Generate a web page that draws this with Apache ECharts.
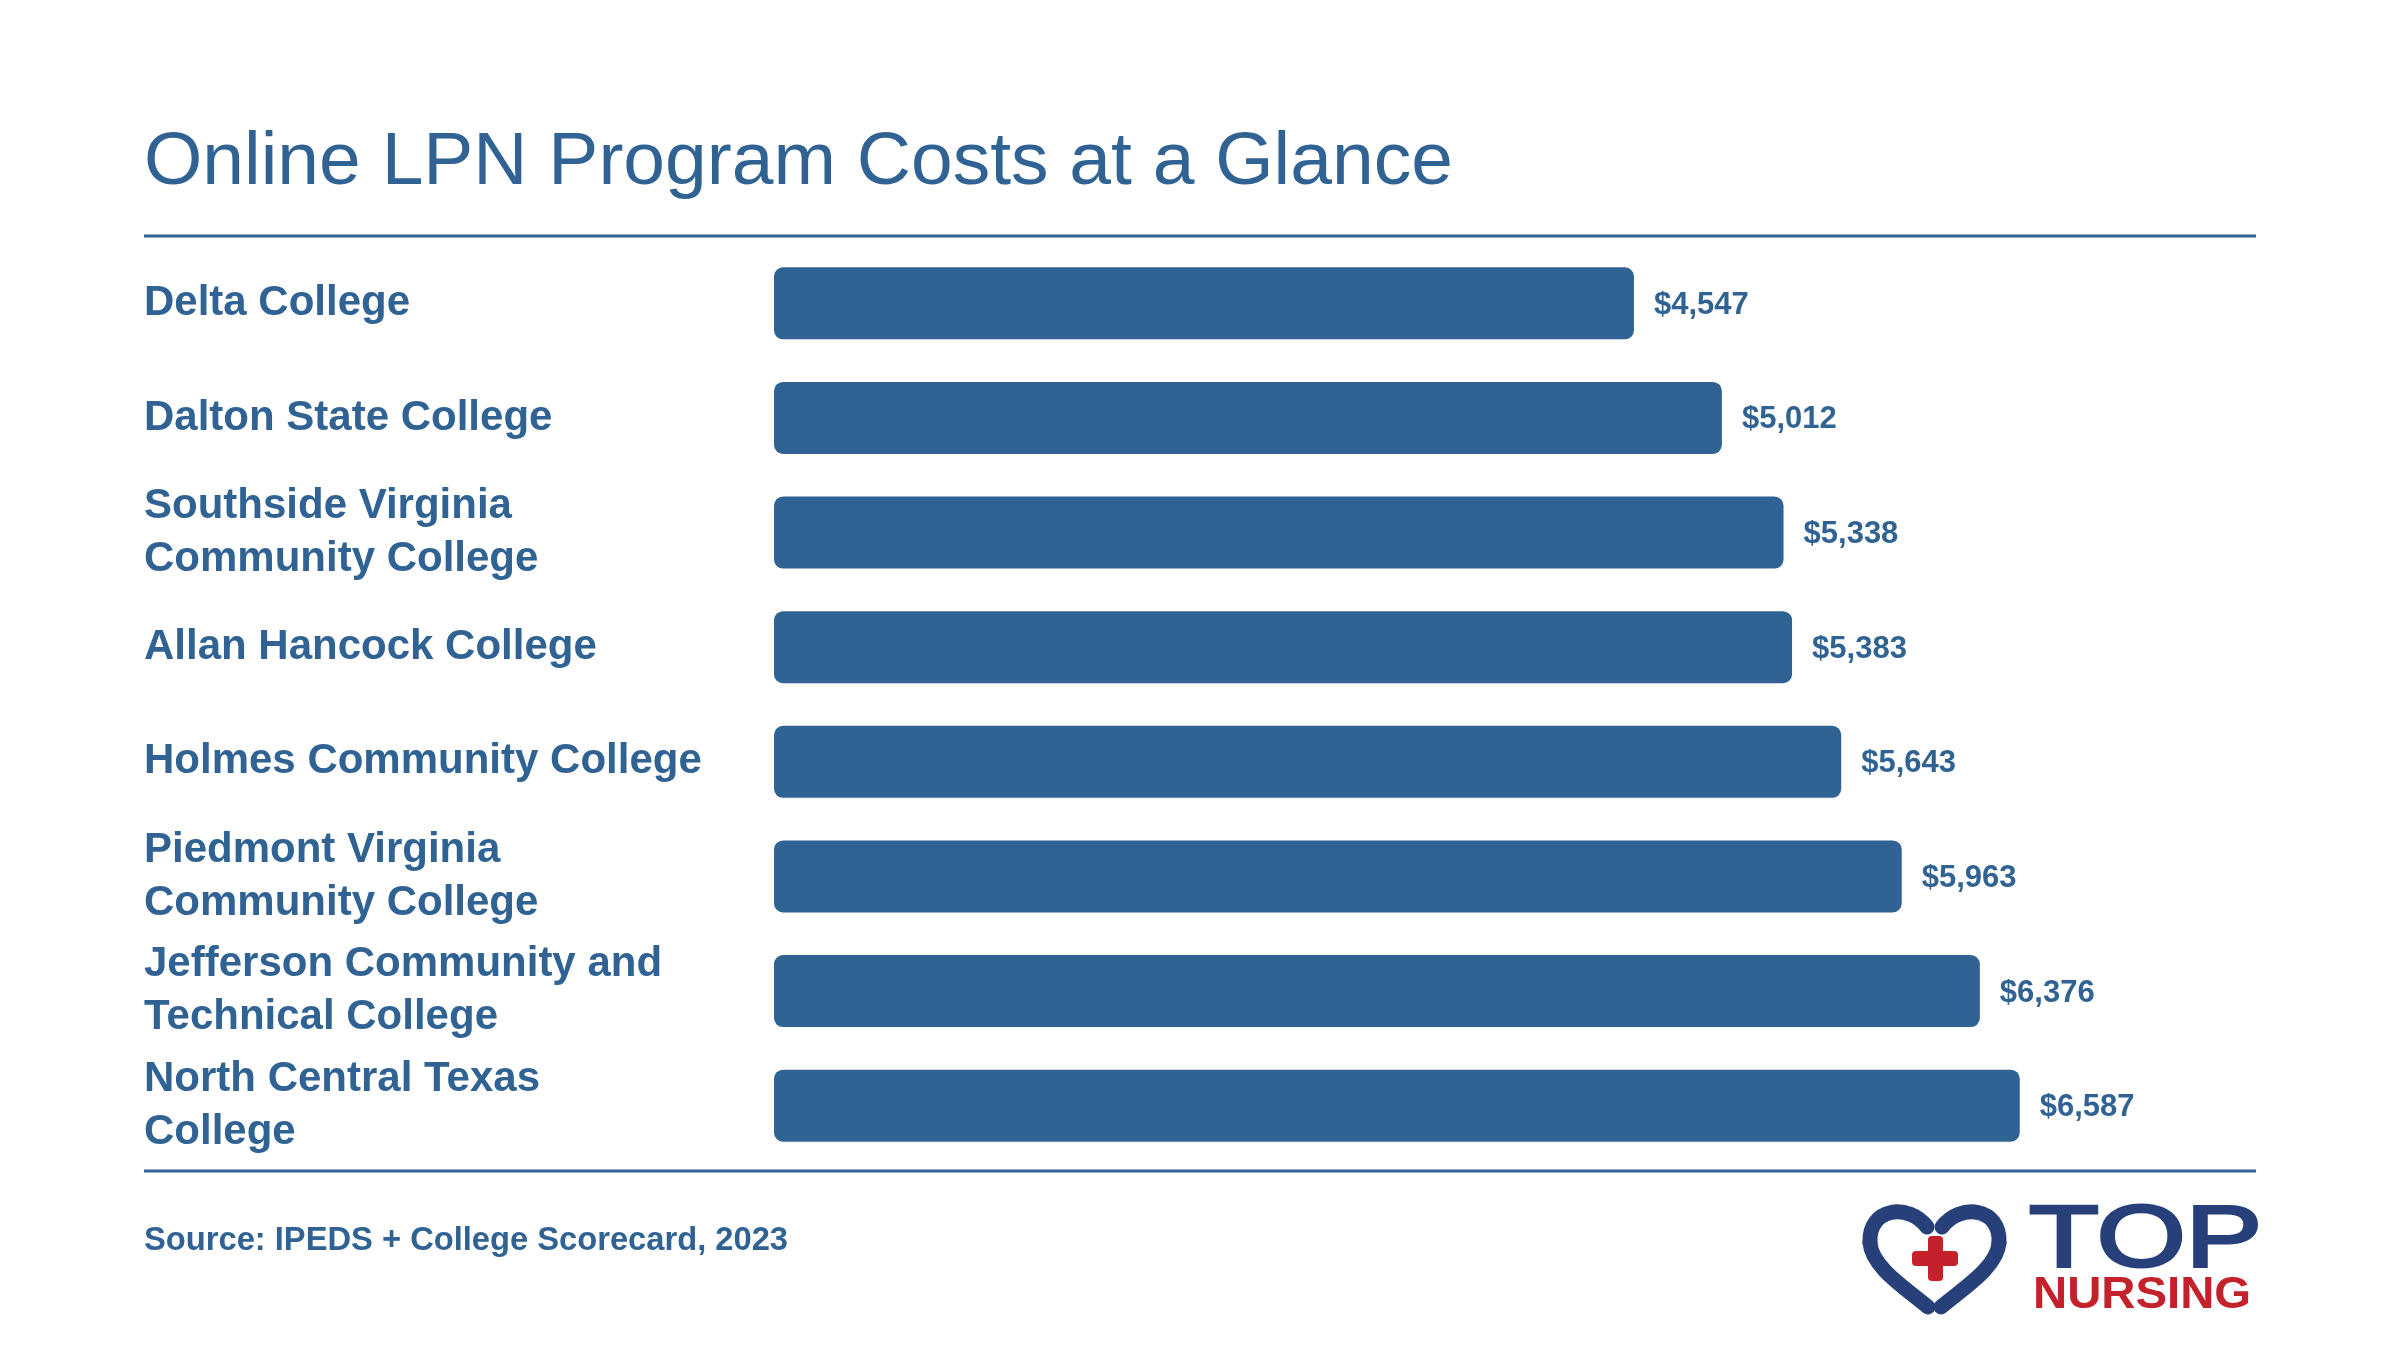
<!DOCTYPE html>
<html>
<head>
<meta charset="utf-8">
<script src="https://cdn.jsdelivr.net/npm/echarts@6/dist/echarts.min.js"></script>
<style>
html, body { margin: 0; padding: 0; background: #ffffff; }
#chart { width: 2400px; height: 1350px; }
</style>
</head>
<body>
<div id="chart"></div>
<script>
// chart data
const colleges = [
    'Delta College',
    'Dalton State College',
    'Southside Virginia\nCommunity College',
    'Allan Hancock College',
    'Holmes Community College',
    'Piedmont Virginia\nCommunity College',
    'Jefferson Community and\nTechnical College',
    'North Central Texas\nCollege'
]
const costs = [4547, 5012, 5338, 5383, 5643, 5963, 6376, 6587]

const titleText = 'Online LPN Program Costs at a Glance'
const sourceText = 'Source: IPEDS + College Scorecard, 2023'

const blue = '#306393'
const navy = '#27407a'
const red = '#c4212a'
const fontFamily = '"Liberation Sans", Arial, Helvetica, sans-serif'

const chart = echarts.init(document.getElementById('chart'))

// heart of the logo, drawn as four curves
function heartCurve(x1, y1, cx1, cy1, cx2, cy2, x2, y2){
    return {
        type: 'bezierCurve',
        x: 1864, y: 1205,
        shape: { x1: x1, y1: y1, cpx1: cx1, cpy1: cy1, cpx2: cx2, cpy2: cy2, x2: x2, y2: y2 },
        style: { fill: 'none', stroke: navy, lineWidth: 15, lineCap: 'round' }
    }
}

const options = {
    backgroundColor: '#ffffff',
    animation: false,
    grid: { left: 774, right: 113, top: 246, bottom: 187, containLabel: false },
    xAxis: {
        type: 'value',
        min: 0,
        max: 8000,
        show: false
    },
    yAxis: {
        type: 'category',
        inverse: true,
        data: colleges,
        axisLine: { show: false },
        axisTick: { show: false },
        splitLine: { show: false },
        axisLabel: {
            interval: 0,
            align: 'left',
            margin: 630,
            color: blue,
            fontFamily: fontFamily,
            fontWeight: 'bold',
            fontSize: 42,
            lineHeight: 53,
            padding: [4, 0, 0, 0]
        }
    },
    series: [{
        type: 'bar',
        data: costs,
        barWidth: 72,
        itemStyle: { color: blue, borderRadius: 9 },
        label: {
            show: true,
            position: 'right',
            distance: 20,
            offset: [0, 2],
            color: blue,
            fontFamily: fontFamily,
            fontWeight: 'bold',
            fontSize: 31,
            formatter: function (p) {
                return '$' + p.value.toLocaleString('en-US')
            }
        }
    }],
    graphic: [
        {
            type: 'text',
            x: 144, y: 163,
            style: {
                text: titleText,
                fill: blue,
                font: 'normal 75px ' + fontFamily,
                verticalAlign: 'middle'
            }
        },
        {
            type: 'line',
            shape: { x1: 144, y1: 236, x2: 2256, y2: 236 },
            style: { stroke: blue, lineWidth: 3 }
        },
        {
            type: 'line',
            shape: { x1: 144, y1: 1171, x2: 2256, y2: 1171 },
            style: { stroke: blue, lineWidth: 3 }
        },
        {
            type: 'text',
            x: 144, y: 1241,
            style: {
                text: sourceText,
                fill: blue,
                font: 'bold 32.7px ' + fontFamily,
                verticalAlign: 'middle'
            }
        },
        heartCurve(63, 22, 45, -2, 4, 2, 6, 38),
        heartCurve(6, 38, 8, 62, 40, 82, 64, 102),
        heartCurve(78, 22, 96, -2, 137, 2, 135, 38),
        heartCurve(135, 38, 133, 62, 101, 82, 77, 102),
        {
            type: 'rect',
            shape: { x: 1912, y: 1251, width: 46, height: 15, r: 4 },
            style: { fill: red }
        },
        {
            type: 'rect',
            shape: { x: 1928, y: 1236, width: 15, height: 45, r: 4 },
            style: { fill: red }
        },
        {
            type: 'text',
            x: 2029, y: 1242,
            scaleX: 1.3,
            style: {
                text: 'TOP',
                fill: navy,
                stroke: navy,
                lineWidth: 3,
                font: 'normal 88px ' + fontFamily,
                verticalAlign: 'middle'
            }
        },
        {
            type: 'text',
            x: 2033, y: 1296,
            scaleX: 1.075,
            style: {
                text: 'NURSING',
                fill: red,
                font: 'bold 44px ' + fontFamily,
                verticalAlign: 'middle'
            }
        }
    ]
}

chart.setOption(options)
</script>
</body>
</html>
